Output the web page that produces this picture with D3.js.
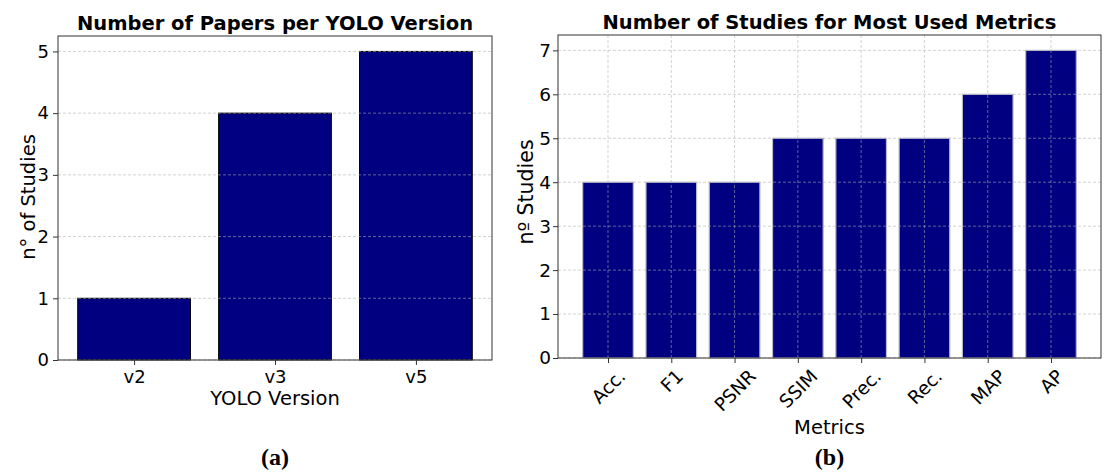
<!DOCTYPE html>
<html>
<head>
<meta charset="utf-8">
<script src="https://cdn.jsdelivr.net/npm/d3@7"></script>
<style>
  html, body { margin: 0; padding: 0; background: #fff; }
  svg { display: block; }
  text { font-family: "DejaVu Sans", sans-serif; fill: #000; }
</style>
</head>
<body>
<svg id="chart" width="1108" height="473"></svg>
<script>
// Panel (a): papers per YOLO version
const versions = ["v2", "v3", "v5"];
const versionCounts = [1, 4, 5];
const versionTicks = [0, 1, 2, 3, 4, 5];

// Panel (b): studies per metric
const metrics = ["Acc.", "F1", "PSNR", "SSIM", "Prec.", "Rec.", "MAP", "AP"];
const metricCounts = [4, 4, 4, 5, 5, 5, 6, 7];
const metricTicks = [0, 1, 2, 3, 4, 5, 6, 7];

const svg = d3.select("#chart");
const NAVY = "#000080";
const LABEL_FS = 19.5;

function panel(opt) {
  const g = svg.append("g");
  const { x0, x1, y0, y1, tickFs } = opt;
  const n = opt.cats.length;
  const pad = 0.05 * (n - 1 + 0.8);
  const x = d3.scaleLinear().domain([-0.4 - pad, n - 1 + 0.4 + pad]).range([x0, x1]);
  const yMax = d3.max(opt.values) * 1.05;
  const y = d3.scaleLinear().domain([0, yMax]).range([y1, y0]);

  // bars
  g.selectAll("rect.bar").data(opt.values).join("rect")
    .attr("class", "bar")
    .attr("x", (d, i) => x(i - 0.4))
    .attr("width", (d, i) => x(i + 0.4) - x(i - 0.4))
    .attr("y", d => y(d))
    .attr("height", d => y(0) - y(d))
    .attr("fill", NAVY)
    .attr("stroke", opt.edge)
    .attr("stroke-width", opt.edgeWidth);

  // dashed grid, drawn above the bars
  const grid = g.append("g").attr("stroke", "#b0b0b0").attr("stroke-opacity", 0.7)
    .attr("stroke-width", 0.8).attr("stroke-dasharray", "3,2");
  opt.ticks.forEach(t => {
    grid.append("line").attr("x1", x0).attr("x2", x1)
      .attr("y1", y(t)).attr("y2", y(t));
  });
  if (opt.vgrid) {
    opt.cats.forEach((c, i) => {
      grid.append("line").attr("x1", x(i)).attr("x2", x(i))
        .attr("y1", y0).attr("y2", y1);
    });
  }

  // axes
  const yAxis = d3.axisLeft(y).tickValues(opt.ticks).tickFormat(d3.format("d"))
    .tickSize(5).tickPadding(opt.yPad);
  const ya = g.append("g").attr("transform", `translate(${x0},0)`).call(yAxis);
  ya.select(".domain").remove();
  ya.selectAll("line").attr("stroke", "#333");
  ya.selectAll("text").style("font-size", tickFs + "px").attr("font-family", "DejaVu Sans");

  const xAxis = d3.axisBottom(x).tickValues(d3.range(n)).tickFormat(i => opt.cats[i])
    .tickSize(5).tickPadding(5);
  const xa = g.append("g").attr("transform", `translate(0,${y1})`).call(xAxis);
  xa.select(".domain").remove();
  xa.selectAll("line").attr("stroke", "#333");
  xa.selectAll("text").style("font-size", tickFs + "px").attr("font-family", "DejaVu Sans");

  if (opt.rotate) {
    // 45° labels, centred horizontally under each tick
    xa.selectAll("text").each(function () {
      const t = d3.select(this);
      const w = this.getComputedTextLength();
      const h = tickFs * 0.75;
      const half = (w + h) * Math.SQRT1_2 / 2;
      t.attr("x", null).attr("y", null).attr("dy", null)
        .attr("text-anchor", "middle")
        .attr("dominant-baseline", "central")
        .attr("transform", `translate(0,${10 + half}) rotate(-45)`);
    });
  }

  // frame
  g.append("rect").attr("x", x0).attr("y", y0).attr("width", x1 - x0).attr("height", y1 - y0)
    .attr("fill", "none").attr("stroke", "#333").attr("stroke-width", 1);

  // title and axis labels
  g.append("text").attr("x", (x0 + x1) / 2).attr("y", y0 - 6)
    .attr("text-anchor", "middle").style("font-size", LABEL_FS + "px").style("font-weight", "bold")
    .text(opt.title);
  g.append("text").attr("x", (x0 + x1) / 2).attr("y", opt.xlabelY)
    .attr("text-anchor", "middle").style("font-size", LABEL_FS + "px").text(opt.xlabel);
  g.append("text")
    .attr("transform", `translate(${opt.ylabelX},${opt.ylabelY}) rotate(-90)`)
    .attr("text-anchor", "middle").style("font-size", opt.ylabelFs + "px").text(opt.ylabel);

  // caption
  svg.append("text").attr("x", (x0 + x1) / 2).attr("y", 465)
    .attr("text-anchor", "middle")
    .style("font-family", "'Liberation Serif', 'Times New Roman', serif")
    .style("font-weight", "bold").style("font-size", "24px")
    .text(opt.caption);
}

panel({
  x0: 58, x1: 492, y0: 36, y1: 360, tickFs: 18, yPad: 4,
  cats: versions, values: versionCounts, ticks: versionTicks,
  edge: "#000", edgeWidth: 1, vgrid: false, rotate: false,
  title: "Number of Papers per YOLO Version",
  xlabel: "YOLO Version", xlabelY: 405,
  ylabel: "n\u00B0 of Studies", ylabelX: 35, ylabelY: 197, ylabelFs: 19.5,
  caption: "(a)"
});

panel({
  x0: 558, x1: 1101, y0: 35, y1: 358, tickFs: 18.5, yPad: 2,
  cats: metrics, values: metricCounts, ticks: metricTicks,
  edge: "#b8b8c8", edgeWidth: 1.2, vgrid: true, rotate: true,
  title: "Number of Studies for Most Used Metrics",
  xlabelY: 434, xlabel: "Metrics",
  ylabel: "n\u00BA Studies", ylabelX: 533, ylabelY: 192, ylabelFs: 20.5,
  caption: "(b)"
});
</script>
</body>
</html>
